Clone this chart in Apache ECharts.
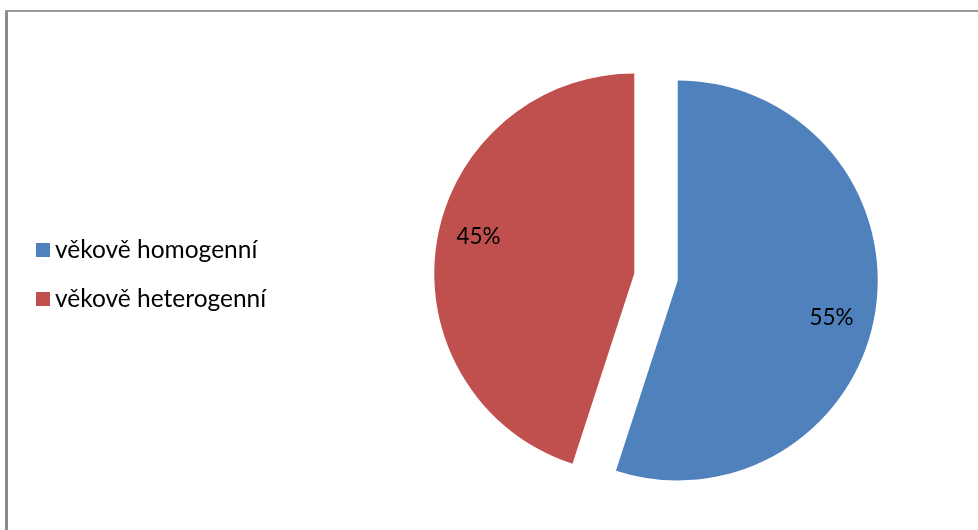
<!DOCTYPE html>
<html>
<head>
<meta charset="utf-8">
<script src="https://cdn.jsdelivr.net/npm/echarts@6/dist/echarts.min.js"></script>
<style>
  html, body { margin: 0; padding: 0; background: #fff; }
  #chart { width: 978px; height: 530px; }
</style>
</head>
<body>
<div id="chart"></div>
<script>
// Share of age-homogeneous vs. age-heterogeneous groups (percent)
const categories = ['věkově homogenní', 'věkově heterogenní'];
const shares = [55, 45];
const colors = ['#4F81BD', '#C0504D'];
// Fine shift of each percentage label away from the default inside spot
const labelShift = [[52, 21], [-54, -21]];

const FONT = 'Lato';

const chart = echarts.init(document.getElementById('chart'), null, { renderer: 'canvas' });

chart.setOption({
  animation: false,
  backgroundColor: '#ffffff',
  graphic: [
    { type: 'rect', shape: { x: 5, y: 10, width: 3, height: 530 }, style: { fill: '#8a8a8a' }, silent: true },
    { type: 'rect', shape: { x: 5, y: 10, width: 973, height: 2 }, style: { fill: '#9a9a9a' }, silent: true }
  ],
  legend: {
    orient: 'vertical',
    left: 31,
    top: 232,
    icon: 'rect',
    itemWidth: 14,
    itemHeight: 14,
    itemGap: 23,
    selectedMode: false,
    textStyle: { fontFamily: FONT, fontSize: 24.5, color: '#000', lineHeight: 26 },
    data: categories
  },
  series: [{
    type: 'pie',
    center: [656, 277],
    radius: [0, 200],
    startAngle: 90,
    clockwise: true,
    selectedMode: 'multiple',
    selectedOffset: 22,
    avoidLabelOverlap: false,
    label: {
      show: true,
      position: 'inside',
      formatter: '{d}%',
      fontFamily: FONT,
      fontSize: 22.5,
      color: '#000'
    },
    labelLine: { show: false },
    labelLayout: function (p) {
      const s = labelShift[p.dataIndex];
      return { dx: s[0], dy: s[1] };
    },
    emphasis: { disabled: true },
    itemStyle: { borderWidth: 0 },
    data: categories.map((name, i) => ({
      name: name,
      value: shares[i],
      selected: true,
      itemStyle: { color: colors[i] }
    }))
  }]
});
</script>
</body>
</html>
